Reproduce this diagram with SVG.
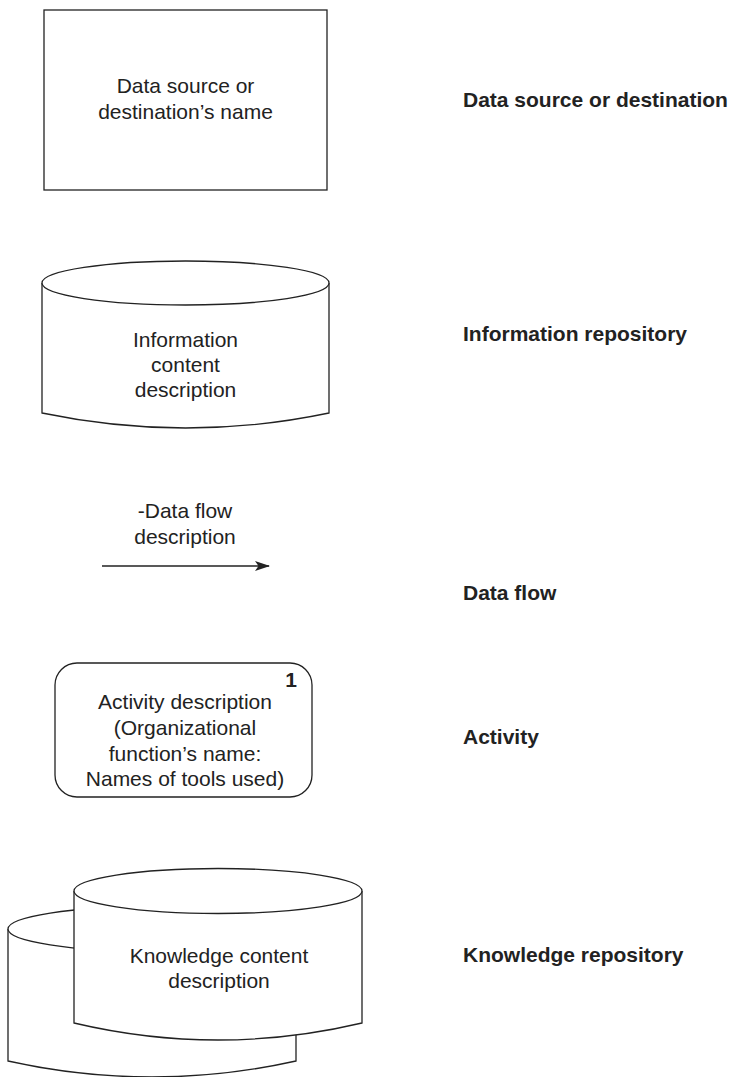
<svg xmlns="http://www.w3.org/2000/svg" width="733" height="1077" viewBox="0 0 733 1077">
  <style>
    .shape { fill: #fff; stroke: #222; stroke-width: 1.3; }
    .txt { font-family: "Liberation Sans", Arial, sans-serif; font-size: 21px; fill: #222; text-anchor: middle; }
    .lbl { font-family: "Liberation Sans", Arial, sans-serif; font-size: 21px; font-weight: bold; fill: #222; }
    .num { font-family: "Liberation Sans", Arial, sans-serif; font-size: 21px; font-weight: bold; fill: #222; text-anchor: end; }
    .flow { fill: none; stroke: #222; stroke-width: 1.5; }
  </style>
  <defs>
    <marker id="arrowhead" markerWidth="15" markerHeight="11" refX="14" refY="5.5" orient="auto" markerUnits="userSpaceOnUse">
      <path d="M0,0.5 L15,5.5 L0,10.5 L3.5,5.5 Z" fill="#222"/>
    </marker>
  </defs>

  <!-- Data source or destination -->
  <g id="data-source">
    <rect class="shape" x="44" y="10" width="283" height="180"/>
    <text class="txt" x="185.5" y="93">Data source or</text>
    <text class="txt" x="185.5" y="119">destination’s name</text>
  </g>

  <!-- Information repository -->
  <g id="information-repository">
    <path class="shape" d="M42,283 L42,413 Q185.5,443 329,413 L329,283"/>
    <ellipse class="shape" cx="185.5" cy="283" rx="143.5" ry="22"/>
    <text class="txt" x="185.5" y="347">Information</text>
    <text class="txt" x="185.5" y="372">content</text>
    <text class="txt" x="185.5" y="397">description</text>
  </g>

  <!-- Data flow -->
  <g id="connectors">
    <line class="flow" x1="102" y1="566" x2="269" y2="566" marker-end="url(#arrowhead)"/>
  </g>
  <g id="data-flow-label">
    <text class="txt" x="185" y="518">-Data flow</text>
    <text class="txt" x="185" y="544">description</text>
  </g>

  <!-- Activity -->
  <g id="activity">
    <rect class="shape" x="55" y="663" width="257" height="134" rx="22" ry="22"/>
    <text class="num" x="297" y="687">1</text>
    <text class="txt" x="185" y="709">Activity description</text>
    <text class="txt" x="185" y="735">(Organizational</text>
    <text class="txt" x="185" y="761">function’s name:</text>
    <text class="txt" x="185" y="786">Names of tools used)</text>
  </g>

  <!-- Knowledge repository: two stacked cylinders -->
  <g id="knowledge-repository">
    <path class="shape" d="M8,929 L8,1061 Q152,1093 296,1061 L296,929"/>
    <ellipse class="shape" cx="152" cy="929" rx="144" ry="22.5"/>
    <path class="shape" d="M74,891 L74,1023 Q218,1057 362,1023 L362,891"/>
    <ellipse class="shape" cx="218" cy="891" rx="144" ry="22.5"/>
    <text class="txt" x="219" y="963">Knowledge content</text>
    <text class="txt" x="219" y="988">description</text>
  </g>

  <!-- Legend labels -->
  <g id="labels">
    <text class="lbl" x="463" y="107">Data source or destination</text>
    <text class="lbl" x="463" y="341">Information repository</text>
    <text class="lbl" x="463" y="600">Data flow</text>
    <text class="lbl" x="463" y="744">Activity</text>
    <text class="lbl" x="463" y="962">Knowledge repository</text>
  </g>
</svg>
